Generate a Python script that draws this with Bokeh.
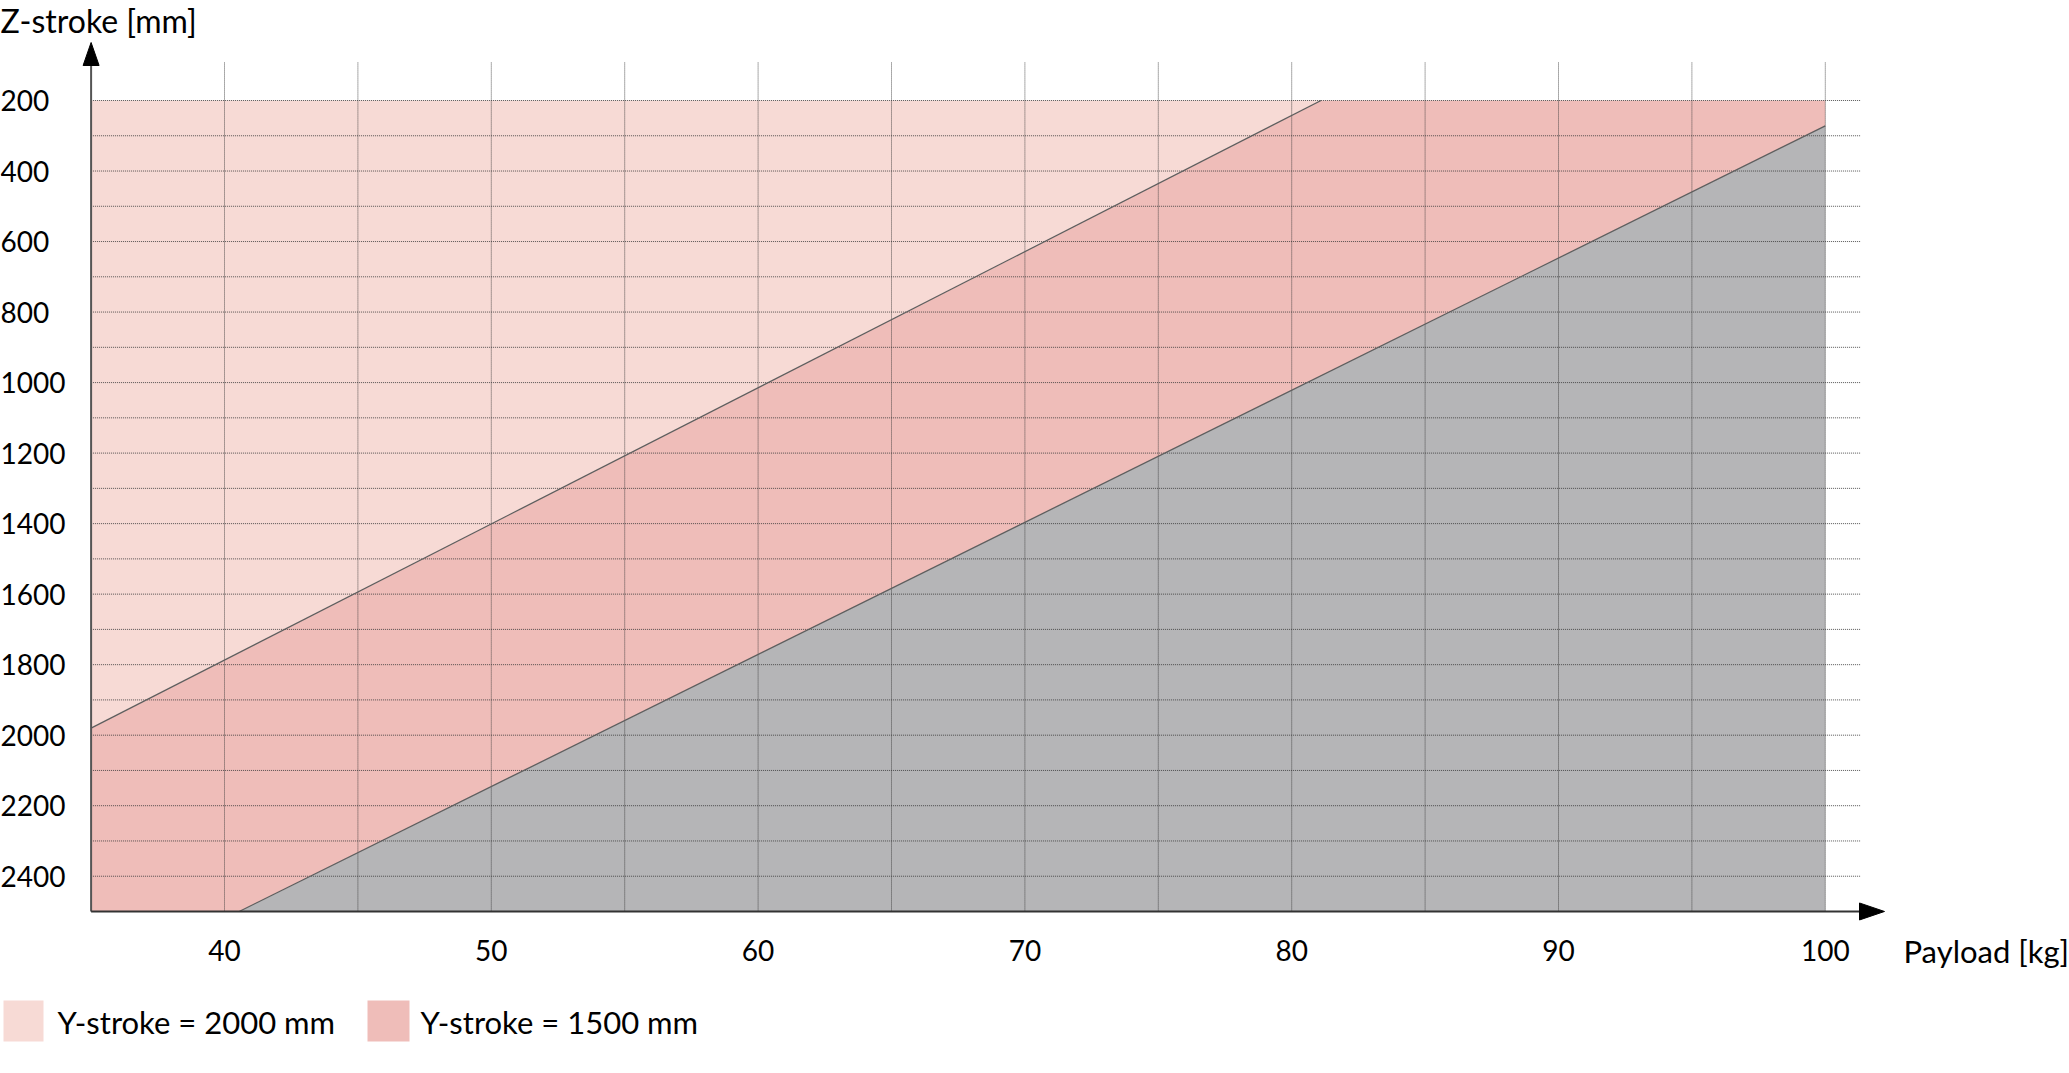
from bokeh.plotting import figure
from bokeh.models import Range1d
from bokeh.embed import file_html
from bokeh.resources import INLINE
from bokeh.core.properties import value

# ---------------- data ----------------
payload_min, payload_max = 35, 100          # kg
zstroke_min, zstroke_max = 200, 2500        # mm

# boundary for Y-stroke = 2000 mm  (payload kg, z-stroke mm)
line_2000_payload = [35.0, 81.1]
line_2000_zstroke = [1980, 200]
# boundary for Y-stroke = 1500 mm
line_1500_payload = [40.55, 100.0]
line_1500_zstroke = [2500, 272]

x_ticks = [40, 50, 60, 70, 80, 90, 100]
x_tick_labels = ["40", "50", "60", "70", "80", "90", "100"]
y_ticks = [200, 400, 600, 800, 1000, 1200, 1400, 1600, 1800, 2000, 2200, 2400]
y_tick_labels = [str(v) for v in y_ticks]
x_grid = [40, 45, 50, 55, 60, 65, 70, 75, 80, 85, 90, 95, 100]
y_grid = [200, 300, 400, 500, 600, 700, 800, 900, 1000, 1100, 1200, 1300, 1400,
          1500, 1600, 1700, 1800, 1900, 2000, 2100, 2200, 2300, 2400]

legend_labels = ["Y-stroke = 2000 mm", "Y-stroke = 1500 mm"]

# ---------------- styling / layout ----------------
C_LIGHT = "#F7DAD5"
C_MED = "#EFBDB9"
C_GRAY = "#B5B5B7"
FONT = value("Lato")

W, H = 2069, 1065
PX_KG = 26.68       # pixels per kg
PX_MM = 0.3526      # pixels per mm
X0 = payload_min - 90.6 / PX_KG          # data x at canvas left
Y0 = zstroke_min - 100.0 / PX_MM         # data y at canvas top


def cx(px):
    return X0 + px / PX_KG


def cy(py):
    return Y0 + py / PX_MM


p = figure(width=W, height=H, output_backend="svg", toolbar_location=None,
           x_range=Range1d(X0, X0 + W / PX_KG),
           y_range=Range1d(Y0 + H / PX_MM, Y0),
           x_axis_location=None, y_axis_location=None, min_border=0)
p.grid.visible = False
p.outline_line_color = None
p.background_fill_color = "white"
p.border_fill_color = "white"

# ---------------- fills ----------------
light_x = [payload_min, line_2000_payload[1], line_2000_payload[0]]
light_y = [zstroke_min, line_2000_zstroke[1], line_2000_zstroke[0]]
med_x = [line_2000_payload[0], line_2000_payload[1], payload_max, line_1500_payload[1],
         line_1500_payload[0], payload_min]
med_y = [line_2000_zstroke[0], line_2000_zstroke[1], zstroke_min, line_1500_zstroke[1],
         line_1500_zstroke[0], zstroke_max]
gray_x = [line_1500_payload[0], line_1500_payload[1], payload_max]
gray_y = [line_1500_zstroke[0], line_1500_zstroke[1], zstroke_max]

p.patch(light_x, light_y, fill_color=C_LIGHT, line_color=None)
p.patch(med_x, med_y, fill_color=C_MED, line_color=None)
p.patch(gray_x, gray_y, fill_color=C_GRAY, line_color=None)

# ---------------- grid ----------------
grid_right = cx(1860)
grid_top = cy(62)
p.multi_line([[payload_min, grid_right] for _ in y_grid], [[v, v] for v in y_grid],
             line_color="#3a3a3a", line_width=1, line_dash="1 1", line_alpha=0.85)
p.multi_line([[v, v] for v in x_grid], [[zstroke_max, grid_top] for _ in x_grid],
             line_color="#3a3a3a", line_width=1, line_dash="1 1", line_alpha=0.85)

# ---------------- boundary lines ----------------
p.line(line_2000_payload, line_2000_zstroke, line_color="#5e5e5e", line_width=1.3)
p.line(line_1500_payload, line_1500_zstroke, line_color="#5e5e5e", line_width=1.3)

# ---------------- axes with arrows ----------------
y_arrow_base = cy(65)
y_arrow_tip = cy(42)
x_arrow_base = cx(1859)
x_arrow_tip = cx(1884)
p.line([payload_min, payload_min], [zstroke_max, y_arrow_base], line_color="#555555", line_width=2)
p.line([payload_min, x_arrow_base], [zstroke_max, zstroke_max], line_color="#333333", line_width=2)
hw = 8 / PX_KG
hh = 8.5 / PX_MM
p.patch([payload_min - hw, payload_min + hw, payload_min],
        [y_arrow_base, y_arrow_base, y_arrow_tip], fill_color="black", line_color="black")
p.patch([x_arrow_base, x_arrow_base, x_arrow_tip],
        [zstroke_max - hh, zstroke_max + hh, zstroke_max], fill_color="black", line_color="black")

# ---------------- tick labels ----------------
p.text([cx(0)] * len(y_ticks), y_ticks, text=y_tick_labels, text_font=FONT,
       text_font_size="28px", text_align="left", text_baseline="middle", text_color="black")
lab_y = cy(950)
p.text(x_ticks, [lab_y] * len(x_ticks), text=x_tick_labels, text_font=FONT,
       text_font_size="28px", text_align="center", text_baseline="middle", text_color="black")

# axis titles
p.text([cx(1903)], [lab_y], text=["Payload [kg]"], text_font=FONT, text_font_size="31px",
       text_align="left", text_baseline="middle", text_color="black")
p.text([cx(0)], [cy(0)], text=["Z-stroke [mm]"], text_font=FONT, text_font_size="32px",
       text_align="left", text_baseline="top", text_color="black")

# ---------------- legend ----------------
sw_left = [cx(3), cx(367)]
sw_right = [cx(43), cx(409)]
p.quad(left=sw_left, right=sw_right, top=[cy(1000)] * 2, bottom=[cy(1041)] * 2,
       fill_color=[C_LIGHT, C_MED], line_color=None)
p.text([cx(57), cx(420)], [cy(1021)] * 2, text=legend_labels, text_font=FONT,
       text_font_size="31px", text_align="left", text_baseline="middle", text_color="black")

open("out.html", "w").write(file_html(p, INLINE))
